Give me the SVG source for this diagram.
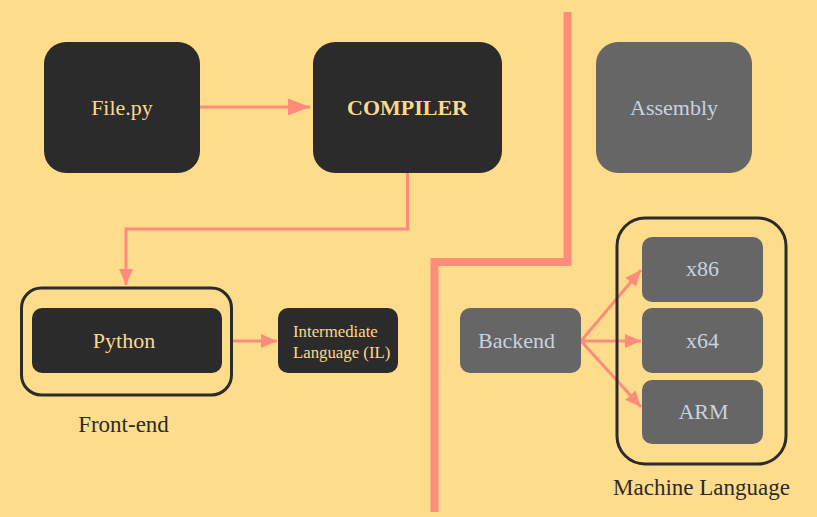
<svg xmlns="http://www.w3.org/2000/svg" width="817" height="517" viewBox="0 0 817 517">
  <style>
    text { font-family: "Liberation Serif", "Times New Roman", serif; }
    .dark { fill: #2b2b2b; }
    .gray { fill: #666666; }
    .frame { fill: none; stroke: #2b2b2b; stroke-width: 3; }
    .gold { fill: #fcd88c; font-size: 22px; text-anchor: middle; }
    .pale { fill: #c8d2e0; font-size: 22px; text-anchor: middle; }
    .cap { fill: #2b2b2b; font-size: 23px; text-anchor: middle; }
    .link { fill: none; stroke: #ff8c7b; stroke-width: 3; }
  </style>
  <defs>
    <marker id="head" viewBox="0 0 22 17" refX="22" refY="8.5" markerWidth="22" markerHeight="17" markerUnits="userSpaceOnUse" orient="auto">
      <path d="M0,0 L22,8.5 L0,17 Z" fill="#ff8c7b"/>
    </marker>
    <marker id="headSmall" viewBox="0 0 16 14" refX="16" refY="7" markerWidth="16" markerHeight="14" markerUnits="userSpaceOnUse" orient="auto">
      <path d="M0,0 L16,7 L0,14 Z" fill="#ff8c7b"/>
    </marker>
  </defs>

  <rect width="817" height="517" fill="#fddd8c"/>

  <!-- divider between front-end and back-end -->
  <path d="M567.5,12 V262 H434.5 V512" fill="none" stroke="#ff8c7b" stroke-width="8"/>

  <g id="connectors">
    <path class="link" d="M200,107 H310" stroke-width="4" marker-end="url(#head)"/>
    <path class="link" d="M407.5,173 V229 H126 V285" marker-end="url(#headSmall)"/>
    <path class="link" d="M233,341 H277" marker-end="url(#headSmall)"/>
    <path class="link" d="M581,341 L641,270"  marker-end="url(#headSmall)"/>
    <path class="link" d="M581,341 H641" marker-end="url(#headSmall)"/>
    <path class="link" d="M581,341 L641,407" marker-end="url(#headSmall)"/>
  </g>

  <g id="file-py">
    <rect class="dark" x="44" y="42" width="156" height="131" rx="22"/>
    <text class="gold" x="122" y="115">File.py</text>
  </g>

  <g id="compiler">
    <rect class="dark" x="313" y="42" width="189" height="131" rx="22"/>
    <text class="gold" x="407.5" y="115" font-weight="bold">COMPILER</text>
  </g>

  <g id="assembly">
    <rect class="gray" x="596" y="42" width="156" height="131" rx="22"/>
    <text class="pale" x="674" y="115">Assembly</text>
  </g>

  <g id="front-end">
    <rect class="frame" x="21.5" y="288" width="210" height="107" rx="20"/>
    <text class="cap" x="123.5" y="432">Front-end</text>
  </g>

  <g id="python">
    <rect class="dark" x="32" y="308" width="190" height="65" rx="10"/>
    <text class="gold" x="124" y="348">Python</text>
  </g>

  <g id="intermediate-language">
    <rect class="dark" x="278" y="308" width="120" height="65" rx="10"/>
    <text fill="#fcd88c" font-size="16.8" x="293" y="336.5">Intermediate</text>
    <text fill="#fcd88c" font-size="16.8" x="293" y="357.5">Language (IL)</text>
  </g>

  <g id="backend">
    <rect class="gray" x="460" y="308" width="121" height="65" rx="10"/>
    <text class="pale" x="516.5" y="348">Backend</text>
  </g>

  <g id="machine-language">
    <rect class="frame" x="617" y="218" width="169" height="246" rx="28"/>
    <text class="cap" x="701.5" y="494.5">Machine Language</text>
  </g>

  <g id="x86">
    <rect class="gray" x="642" y="237" width="121" height="65" rx="10"/>
    <text class="pale" x="702.5" y="276">x86</text>
  </g>

  <g id="x64">
    <rect class="gray" x="642" y="308" width="121" height="65" rx="10"/>
    <text class="pale" x="702.5" y="348">x64</text>
  </g>

  <g id="arm">
    <rect class="gray" x="642" y="380" width="121" height="64" rx="10"/>
    <text class="pale" x="703.5" y="419">ARM</text>
  </g>
</svg>
